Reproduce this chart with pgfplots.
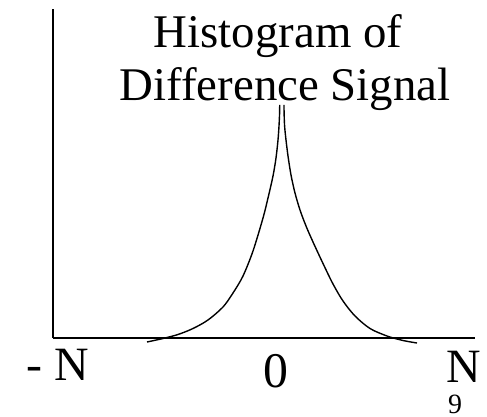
\documentclass[border=0pt]{standalone}
\usepackage{fontspec}
\setmainfont{Liberation Serif}
\usepackage{pgfplots}
\pgfplotsset{compat=1.18}

% Two one-sided branches of the difference histogram (horizontal unit: bins, peak near 0)
\pgfplotstableread{
x y
-136 -4
-120 -0.5
-105 3.5
-90 9.5
-75 18
-60 31
-50 45
-40 62
-30 87
-20 120
-15 140
-10 162
-7 180
-5 198
-4 212
-3.4 225
-3.3 233
}\leftbranch
\pgfplotstableread{
x y
1.0 233
1.1 225
1.6 212
3.0 198
5 182
8 163
12 145
17 128
23 112
30 96
40 74.5
50 54
60 37
72 22
87 9.5
104 2
120 -2.5
134 -5
}\rightbranch

\begin{document}
\begin{tikzpicture}
\begin{axis}[
  scale only axis,
  width=422bp, height=329bp,
  xmin=-230, xmax=192,
  ymin=0, ymax=329,
  axis lines*=left,
  axis line style={line width=1.6pt},
  ticks=none,
  clip=false,
]
\addplot[black, line width=1.4pt, smooth, tension=0.5] table {\leftbranch};
\addplot[black, line width=1.4pt, smooth, tension=0.5] table {\rightbranch};

\node[anchor=base, font=\fontsize{47}{56}\selectfont] at (axis cs:-5,290) {Histogram of};
\node[anchor=base, font=\fontsize{47}{56}\selectfont] at (axis cs:2,237) {Difference Signal};

\node[anchor=base, font=\fontsize{48}{56}\selectfont] at (axis cs:-225,-42) {- N};
\node[anchor=base, font=\fontsize{50}{56}\selectfont] at (axis cs:-7,-49) {0};
\node[anchor=base, font=\fontsize{48}{56}\selectfont] at (axis cs:181,-44) {N};
\node[anchor=base, font=\fontsize{28}{32}\selectfont] at (axis cs:172,-75.5) {9};

\coordinate (bl) at (axis cs:-283,-79);
\coordinate (tr) at (axis cs:204,338);
\end{axis}
\pgfresetboundingbox
\path[use as bounding box] (bl) rectangle (tr);
\end{tikzpicture}
\end{document}
